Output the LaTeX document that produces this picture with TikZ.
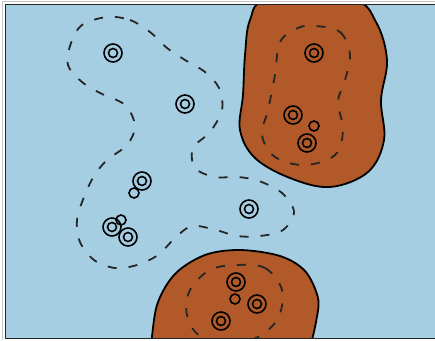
\documentclass[tikz,border=0pt]{standalone}
\definecolor{bluebg}{RGB}{166,206,227}
\definecolor{brownreg}{RGB}{177,89,40}
\begin{document}
\begin{tikzpicture}[x=1pt,y=-1pt,
  ring/.style={circle,draw=black,line width=1.6pt,minimum size=18pt,inner sep=0pt,
    path picture={\draw[line width=1.6pt] (path picture bounding box.center) circle (4.5pt);}},
  dot/.style={circle,draw=black,line width=1.6pt,minimum size=10pt,inner sep=0pt},
  region/.style={fill=brownreg,draw=black,line width=1.8pt},
  contour/.style={draw=black!85,line width=1.8pt,dash pattern=on 9pt off 12pt}]
\useasboundingbox (0,0) rectangle (435,340);
\fill[white] (0,0) rectangle (435,340);
\draw[gray!45,line width=1.2pt] (2.5,340) -- (2.5,1.5) -- (440,1.5);
\fill[bluebg] (5,4) rectangle (440,338);
\begin{scope}
  \clip (5,4) rectangle (440,338);
  % top-right region
  \path[region] plot[smooth cycle,tension=0.6] coordinates {
    (268,0) (352,0) (376,22) (387,60) (381,100) (384,140) (368,172)
    (330,187) (290,178) (255,158) (240,130) (243,95) (245,55) (250,20)};
  % bottom region
  \path[region] plot[smooth,tension=0.55] coordinates {
    (151,348) (157,305) (175,274) (205,255) (240,250) (280,256) (305,271)
    (318,298) (316,322) (310,348)} -- cycle;
  % dashed contours
  \path[contour] plot[smooth cycle,tension=0.6] coordinates {
    (315,26) (340,32) (350,55) (345,80) (338,102) (343,130) (335,155)
    (305,165) (275,157) (262,135) (268,110) (275,75) (280,42) (298,28)};
  \path[contour] plot[smooth cycle,tension=0.6] coordinates {
    (237,265) (265,268) (282,290) (278,318) (258,337) (230,342) (200,336)
    (187,315) (190,290) (210,270)};
  \path[contour] plot[smooth cycle,tension=0.55] coordinates {
    (107,17) (130,20) (150,32) (167,48) (185,60) (205,72) (219,88) (222,110)
    (210,132) (193,148) (195,168) (215,177) (238,177) (259,181) (282,193)
    (294,212) (283,230) (260,236) (237,236) (216,230) (192,226) (175,238)
    (158,255) (137,265) (115,268) (94,260) (80,242) (77,220) (84,197)
    (94,176) (107,160) (127,145) (135,126) (125,105) (100,93) (82,82)
    (68,65) (71,43) (82,25)};
\end{scope}
\draw[black!85,line width=1.6pt] (5.5,338) -- (5.5,4.5) -- (440,4.5);
\draw[black!85,line width=1.8pt] (5,338.5) -- (440,338.5);
% markers
\node[ring] (a1) at (113,53) {};
\node[ring] (a2) at (185,104) {};
\node[ring] (a3) at (142,181) {};
\node[dot]  (a4) at (134,193) {};
\node[ring] (a5) at (112,227) {};
\node[dot]  (a6) at (121,220) {};
\node[ring] (a7) at (128,237) {};
\node[ring] (a8) at (249,209) {};
\node[ring] (b1) at (314,53) {};
\node[ring] (b2) at (293,115) {};
\node[dot]  (b3) at (314,126) {};
\node[ring] (b4) at (307,143) {};
\node[ring] (c1) at (236,282) {};
\node[dot]  (c2) at (235,299) {};
\node[ring] (c3) at (257,304) {};
\node[ring] (c4) at (221,321) {};
\end{tikzpicture}
\end{document}
